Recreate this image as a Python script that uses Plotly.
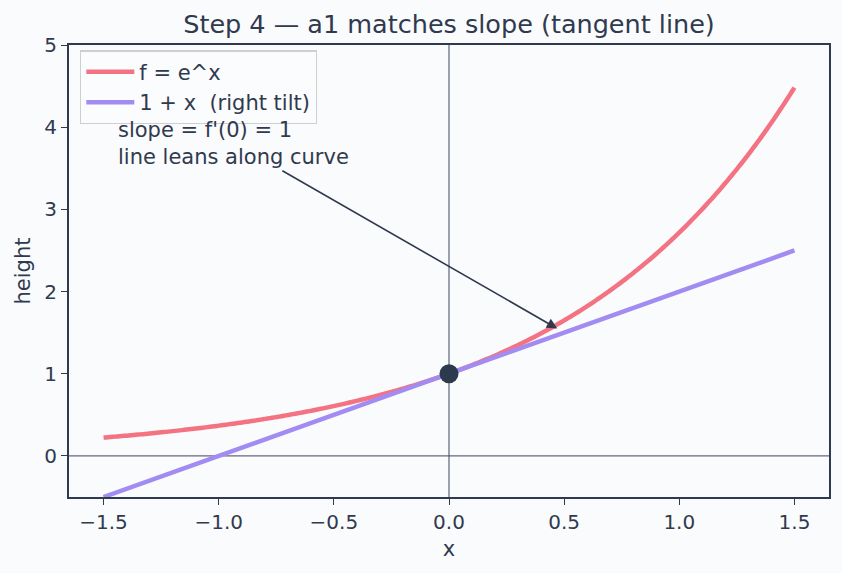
import numpy as np
import plotly.graph_objects as go

x_vals = np.linspace(-1.5, 1.5, 300)
f_vals = np.exp(x_vals)
tan_x = [-1.5, 1.5]
tan_y = [-0.5, 2.5]
point_x = [0.0]
point_y = [1.0]

title = "Step 4 \u2014 a1 matches slope (tangent line)"
xticks = [-1.5, -1.0, -0.5, 0.0, 0.5, 1.0, 1.5]
xticklabels = ["\u22121.5", "\u22121.0", "\u22120.5", "0.0", "0.5", "1.0", "1.5"]
yticks = [0, 1, 2, 3, 4, 5]

TXT = "#303a4e"
FONT = "DejaVu Sans"

fig = go.Figure()
fig.add_trace(go.Scatter(x=x_vals, y=f_vals, mode="lines", name="f = e^x",
                         line=dict(color="#f47382", width=4.5, simplify=False)))
fig.add_trace(go.Scatter(x=tan_x, y=tan_y, mode="lines", name="1 + x  (right tilt)",
                         line=dict(color="#a28cf2", width=4.5)))
fig.add_trace(go.Scatter(x=point_x, y=point_y, mode="markers", showlegend=False,
                         marker=dict(color="#2c3a4e", size=19)))

fig.add_shape(type="line", xref="x", yref="paper", x0=0, x1=0, y0=0, y1=1,
              line=dict(color="#3d4460", width=1), layer="below")
fig.add_shape(type="line", xref="paper", yref="y", x0=0, x1=1, y0=0, y1=0,
              line=dict(color="#3d4460", width=1), layer="below")

fig.add_annotation(x=0.47, y=1.55, ax=-0.73, ay=3.48, xref="x", yref="y",
                   axref="x", ayref="y", text="", showarrow=True,
                   arrowhead=2, arrowsize=1.3, arrowwidth=1.6, arrowcolor="#303a4e")
fig.add_annotation(x=-1.448, y=3.80, xref="x", yref="y", xanchor="left", yanchor="middle",
                   text="slope = f'(0) = 1<br>line leans along curve", showarrow=False,
                   align="left", font=dict(family=FONT, size=21, color=TXT))

fig.update_layout(
    width=842, height=573,
    margin=dict(l=69, r=13, t=45, b=76),
    paper_bgcolor="#fafbfd", plot_bgcolor="#fafbfd",
    font=dict(family=FONT, color=TXT, size=20),
    title=dict(text=title, x=0.5, xanchor="center", xref="paper",
               y=1 - 24 / 573, yanchor="middle", yref="container",
               font=dict(family=FONT, size=25.5, color=TXT)),
    showlegend=True,
    legend=dict(x=0.0145, y=0.988, xanchor="left", yanchor="top",
                bgcolor="rgba(250,251,253,0.85)", bordercolor="#cfcfcf", borderwidth=1.3,
                itemwidth=48,
                font=dict(family=FONT, size=21, color=TXT)),
    xaxis=dict(range=[-1.65, 1.65], tickvals=xticks, ticktext=xticklabels,
               showgrid=False, zeroline=False, showline=True, mirror=True,
               linecolor="#303a4e", linewidth=2, ticks="outside", ticklen=6,
               tickcolor="#303a4e", tickfont=dict(size=20),
               title=dict(text="x", font=dict(size=21), standoff=8)),
    yaxis=dict(range=[-0.5, 5], tickvals=yticks,
               showgrid=False, zeroline=False, showline=True, mirror=True,
               linecolor="#303a4e", linewidth=2, ticks="outside", ticklen=6,
               tickcolor="#303a4e", tickfont=dict(size=20),
               title=dict(text="height", font=dict(size=21), standoff=8)),
)

fig.write_html("out.html")
